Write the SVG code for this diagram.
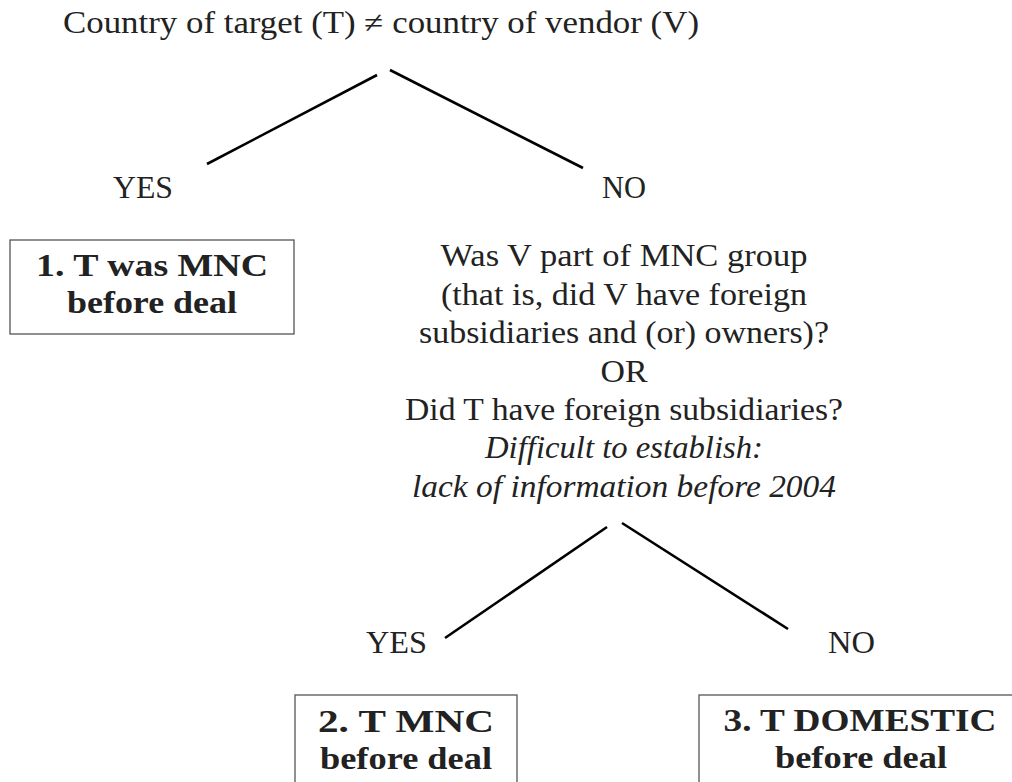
<svg xmlns="http://www.w3.org/2000/svg" width="1012" height="782" viewBox="0 0 1012 782">
<style>
text{font-family:"Liberation Serif","Times New Roman",serif;font-size:30.5px;fill:#222;text-anchor:middle}
.b{font-weight:bold}
.i{font-style:italic}
.box{fill:#fff;stroke:#555;stroke-width:1.3}
.edge{stroke:#000;stroke-width:2.6;fill:none;stroke-linecap:butt}
</style>
<rect width="1012" height="782" fill="#fff"/>
<g id="connectors">
<line class="edge" x1="377" y1="75" x2="207" y2="164"/>
<line class="edge" x1="390" y1="70" x2="583" y2="168"/>
<line class="edge" x1="607" y1="527" x2="445" y2="638"/>
<line class="edge" x1="622" y1="523" x2="788" y2="629"/>
</g>
<g id="root">
<text x="381" y="33" textLength="636" lengthAdjust="spacingAndGlyphs">Country of target (T) ≠ country of vendor (V)</text>
</g>
<g id="yes1"><text x="143" y="198" textLength="60" lengthAdjust="spacingAndGlyphs">YES</text></g>
<g id="no1"><text x="624" y="198" textLength="44" lengthAdjust="spacingAndGlyphs">NO</text></g>
<g id="box1">
<rect class="box" x="10" y="240" width="284" height="94"/>
<text class="b" x="152" y="276" textLength="232" lengthAdjust="spacingAndGlyphs">1. T was MNC</text>
<text class="b" x="152" y="313" textLength="170" lengthAdjust="spacingAndGlyphs">before deal</text>
</g>
<g id="question">
<text x="624" y="266" textLength="367" lengthAdjust="spacingAndGlyphs">Was V part of MNC group</text>
<text x="624" y="305" textLength="366" lengthAdjust="spacingAndGlyphs">(that is, did V have foreign</text>
<text x="624" y="343" textLength="410" lengthAdjust="spacingAndGlyphs">subsidiaries and (or) owners)?</text>
<text x="624" y="382" textLength="47" lengthAdjust="spacingAndGlyphs">OR</text>
<text x="624" y="420" textLength="438" lengthAdjust="spacingAndGlyphs">Did T have foreign subsidiaries?</text>
<text class="i" x="624" y="458" textLength="278" lengthAdjust="spacingAndGlyphs">Difficult to establish:</text>
<text class="i" x="624" y="497" textLength="424" lengthAdjust="spacingAndGlyphs">lack of information before 2004</text>
</g>
<g id="yes2"><text x="396.5" y="653" textLength="61" lengthAdjust="spacingAndGlyphs">YES</text></g>
<g id="no2"><text x="851.5" y="653" textLength="47" lengthAdjust="spacingAndGlyphs">NO</text></g>
<g id="box2">
<rect class="box" x="295" y="695" width="222" height="110"/>
<text class="b" x="406" y="732" textLength="176" lengthAdjust="spacingAndGlyphs">2. T MNC</text>
<text class="b" x="406" y="769" textLength="172" lengthAdjust="spacingAndGlyphs">before deal</text>
</g>
<g id="box3">
<rect class="box" x="699" y="695" width="330" height="110"/>
<text class="b" x="860" y="731" textLength="273" lengthAdjust="spacingAndGlyphs">3. T DOMESTIC</text>
<text class="b" x="861" y="768" textLength="172" lengthAdjust="spacingAndGlyphs">before deal</text>
</g>
</svg>
